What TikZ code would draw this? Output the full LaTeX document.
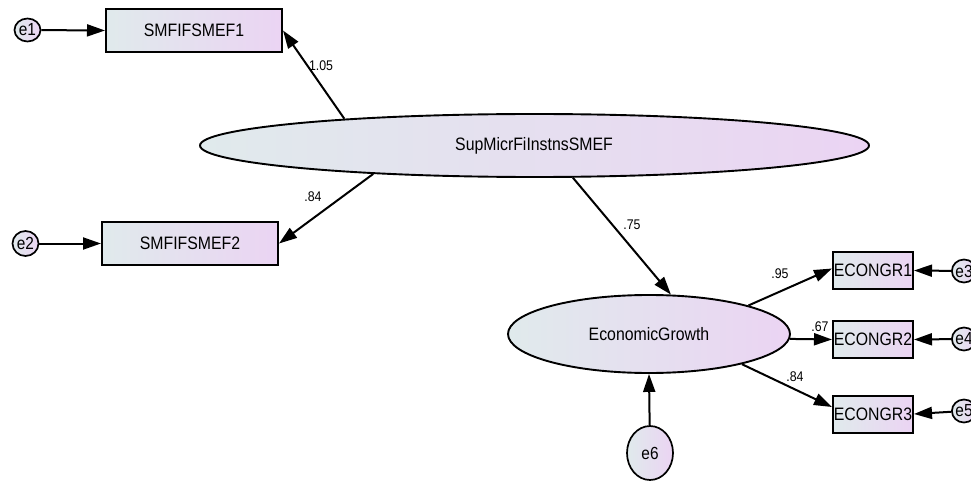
\documentclass[tikz,border=0pt]{standalone}
\usepackage{fontspec}
\setmainfont{Liberation Sans}
\newfontfamily\amosfont[FakeStretch=0.88]{Liberation Sans}
\usetikzlibrary{shapes.geometric,arrows.meta}
\definecolor{gleft}{RGB}{224,234,236}
\definecolor{gright}{RGB}{235,212,243}
\tikzset{
  obsbox/.style={draw=black,line width=2pt,rectangle,left color=gleft,right color=gright,
    inner sep=0pt,minimum width=#1,minimum height=37pt,font=\amosfont\fontsize{18}{20}\selectfont},
  latent/.style={draw=black,line width=1.9pt,ellipse,left color=gleft,right color=gright,
    inner sep=0pt,font=\amosfont\fontsize{18}{20}\selectfont},
  errc/.style={draw=black,line width=1.7pt,ellipse,left color=gleft,right color=gright,
    inner sep=0pt,minimum width=26pt,minimum height=23pt,font=\amosfont\fontsize{17.5}{19}\selectfont},
  arr/.style={line width=2pt,-{Triangle[length=18pt,width=12pt]}},
  lbl/.style={font=\amosfont\fontsize{14}{16}\selectfont,inner sep=0pt}
}
\begin{document}
\begin{tikzpicture}[x=1pt,y=-1pt]
\useasboundingbox (0,0) rectangle (971,481);
% observed left
\node[obsbox=176pt,minimum height=43pt] (b1) at (194,30.5) {SMFIFSMEF1};
\node[obsbox=176pt,minimum height=43pt] (b2) at (190,243.5) {SMFIFSMEF2};
\node[errc] (e1) at (27.5,30) {e1};
\node[errc,minimum height=25pt,minimum width=26pt] (e2) at (25.5,243.5) {e2};
% latent
\node[latent,minimum width=669pt,minimum height=63pt] (cen) at (534.5,145.5) {};
\node[font=\amosfont\fontsize{18}{20}\selectfont] at (534,145.5) {SupMicrFiInstnsSMEF};
\node[latent,minimum width=282pt,minimum height=78pt] (eg) at (649,334) {EconomicGrowth};
\node[errc,minimum width=46pt,minimum height=54pt] (e6) at (650,453) {e6};
% observed right
\node[obsbox=80pt] (r1) at (873,270.5) {ECONGR1};
\node[obsbox=80pt] (r2) at (873,339.5) {ECONGR2};
\node[obsbox=80pt] (r3) at (873,414) {ECONGR3};
\node[errc,minimum width=24pt] (e3) at (964,271) {e3};
\node[errc,minimum width=24pt] (e4) at (964,339) {e4};
\node[errc,minimum width=24pt] (e5) at (964,411) {e5};
% arrows
\draw[arr] (e1) -- (b1.west);
\draw[arr] (e2) -- (b2.west);
\draw[arr] (cen.172.9) -- (b1.east);
\draw[arr] (cen.190) -- (b2.east);
\draw[arr] (cen.320) -- (eg.61.5);
\draw[arr] (eg.16) -- ([yshift=2pt]r1.west);
\draw[arr] (eg.-2) -- (r2.west);
\draw[arr] (eg.-18.7) -- ([yshift=7pt]r3.west);
\draw[arr] (e6) -- (eg.south);
\draw[arr] (e3) -- (r1.east);
\draw[arr] (e4) -- (r2.east);
\draw[arr] (e5) -- (r3.east);
% labels
\node[lbl] (l1) at (321,66) {1.05};
\node[lbl] (l2) at (313,197) {.84};
\node[lbl] (l3) at (632,225) {.75};
\node[lbl] (l4) at (780,274) {.95};
\node[lbl] (l5) at (820,327) {.67};
\node[lbl] (l6) at (795,377) {.84};
\end{tikzpicture}
\end{document}
